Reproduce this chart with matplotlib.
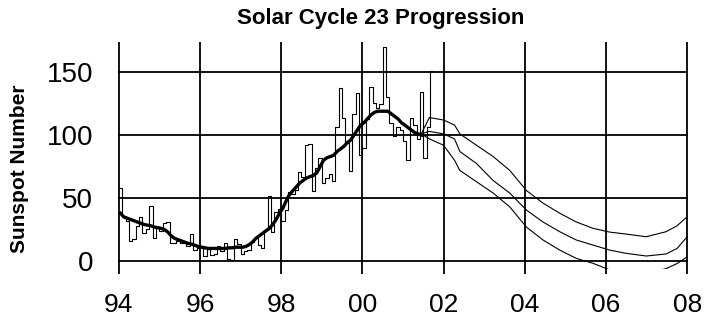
import numpy as np
import matplotlib.pyplot as plt

# monthly mean sunspot numbers, Jan 1994 .. Sep 2001
monthly_ssn = [
    57.9, 35.5, 31.7, 16.1, 17.8, 28.0, 35.1, 22.5, 25.7, 44.0, 18.0, 26.2,   # 1994
    24.2, 29.9, 31.1, 14.0, 14.5, 15.6, 14.5, 14.3, 11.8, 21.1, 9.0, 10.0,    # 1995
    11.5, 4.4, 9.2, 4.8, 5.5, 11.8, 8.2, 14.4, 1.6, 0.9, 17.9, 13.3,          # 1996
    5.7, 7.6, 8.7, 15.5, 18.5, 12.7, 10.4, 24.4, 51.3, 22.8, 39.0, 41.2,      # 1997
    31.9, 40.3, 54.8, 53.4, 56.3, 70.7, 66.6, 92.2, 92.9, 55.5, 74.0, 81.9,   # 1998
    62.0, 66.3, 68.8, 63.7, 106.4, 137.7, 113.5, 93.7, 71.5, 116.7, 133.2, 84.6,  # 1999
    90.1, 112.9, 138.5, 125.5, 121.6, 124.9, 170.1, 130.5, 109.7, 99.4, 106.8, 104.4,  # 2000
    95.6, 80.6, 113.5, 107.7, 96.6, 134.0, 81.8, 106.4, 150.7,                # 2001
]

# smoothed sunspot number, Jan 1994 .. Jun 2001
smoothed_ssn = [
    38, 35, 34, 33, 32, 31, 30, 29, 28.5, 28, 27, 26.5,
    26, 25, 23, 20, 18, 17, 16, 15, 14, 13.5, 12.5, 11.5,
    11, 10.5, 10, 10, 10, 10, 10, 10, 10.5, 10.5, 11, 11,
    11, 11.5, 13, 15, 18, 20, 22, 24, 26, 29, 33, 38,
    42, 48, 53, 56, 59, 62, 64, 66, 67, 68, 70, 75,
    80, 82, 83, 84, 87, 89, 91, 94, 96, 100, 104, 108,
    110, 113, 116, 118, 119, 119, 119, 119, 117, 115, 113, 110,
    108, 106, 104, 102, 101, 100,
]

# predicted course of the cycle (upper / middle / lower)
pred_years = [2001.45, 2001.65, 2002.0, 2002.27, 2002.4, 2002.81, 2003.22, 2003.63,
              2004.04, 2004.45, 2004.86, 2005.27, 2005.68, 2006.09, 2006.5,
              2006.99, 2007.48, 2007.75, 2008.0]
pred_upper = [101, 114, 112, 108, 101, 92, 83, 72, 56, 46, 38, 31, 26, 23, 21.4,
              19.3, 23.3, 28, 35.2]
pred_middle = [101, 103, 101, 97, 87, 77.5, 64, 54, 40.5, 31, 23.3, 16.7, 12.7, 8.7,
               6.1, 4.0, 5.6, 10, 19.3]
pred_lower = [101, 97, 92, 80, 72, 63, 54, 43, 27, 16.7, 8.7, 2.1, -1.8, -7, -10,
              -10, -6, -2, 3.4]

x_ticks = list(range(1994, 2009, 2))
y_ticks = [0, 50, 100, 150]


def main():
    plt.rcParams['font.family'] = ['Liberation Sans', 'DejaVu Sans']

    fig = plt.figure(figsize=(7.12, 3.34), dpi=100)
    ax = fig.add_axes([0.1657, 0.1958, 0.8006, 0.6785])

    t_monthly = 1994 + (np.arange(len(monthly_ssn)) + 0.5) / 12
    t_smooth = 1994 + (np.arange(len(smoothed_ssn)) + 0.5) / 12

    ax.plot(t_monthly, monthly_ssn, color='black', lw=0.8, drawstyle='steps-mid')
    ax.plot(t_smooth, smoothed_ssn, color='black', lw=2.4)
    for pred in (pred_upper, pred_middle, pred_lower):
        ax.plot(pred_years, pred, color='black', lw=0.8)

    ax.set_xlim(1993.98, 2008.02)
    ax.set_ylim(-6, 174)
    ax.set_xticks(x_ticks)
    ax.set_xticklabels([f"{y % 100:02d}" for y in x_ticks])
    ax.set_yticks(y_ticks)

    for s in ax.spines.values():
        s.set_visible(False)
    ax.grid(True, color='black', lw=1.3)
    ax.set_axisbelow(True)

    ax.tick_params(axis='x', direction='out', length=3.5, width=1.3, pad=14, labelsize=19)
    ax.tick_params(axis='y', length=0, pad=18, labelsize=20)

    fig.text(0.534, 0.946, 'Solar Cycle 23 Progression', ha='center', va='center',
             fontsize=16, fontweight='bold')
    fig.text(0.027, 0.495, 'Sunspot Number', ha='center', va='center', rotation=90,
             fontsize=15, fontweight='bold')

    fig.savefig('out.png', dpi=100)


if __name__ == "__main__":
    main()
